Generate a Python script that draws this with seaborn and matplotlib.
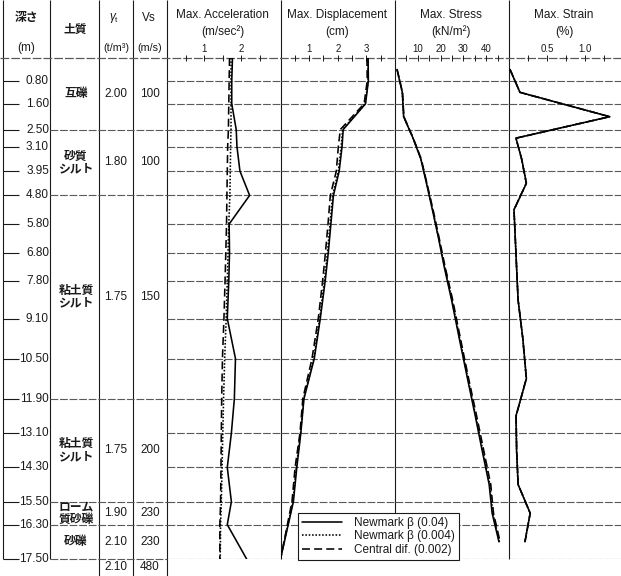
import matplotlib
matplotlib.use("Agg")
import matplotlib.pyplot as plt
from matplotlib.lines import Line2D
import pandas as pd
import seaborn as sns

sns.set_theme(style="white")
plt.rcParams["font.family"] = ["Liberation Sans", "Noto Sans CJK JP", "DejaVu Sans"]
plt.rcParams["mathtext.fontset"] = "custom"
plt.rcParams["mathtext.rm"] = "Liberation Sans"
plt.rcParams["mathtext.it"] = "Liberation Sans:italic"

# ---------------- data ----------------
node_depth = [0.0, 0.8, 1.6, 2.5, 3.1, 3.95, 4.8, 5.8, 6.8, 7.8, 9.1,
              10.5, 11.9, 13.1, 14.3, 15.5, 16.3, 17.5]
depth_labels = ["0.80", "1.60", "2.50", "3.10", "3.95", "4.80", "5.80", "6.80",
                "7.80", "9.10", "10.50", "11.90", "13.10", "14.30", "15.50",
                "16.30", "17.50"]
mid_depth = [0.4, 1.2, 2.05, 2.8, 3.525, 4.375, 5.3, 6.3, 7.3, 8.45, 9.8,
             11.2, 12.5, 13.7, 14.9, 15.9, 16.9]

methods = ["Newmark β (0.04)", "Newmark β (0.004)", "Central dif. (0.002)"]

acc_nm04 = [1.76, 1.74, 1.74, 1.86, 1.88, 1.96, 2.22, 1.67, 1.68, 1.66, 1.62,
            1.84, 1.81, 1.73, 1.62, 1.73, 1.62, 2.14]
acc_nm004 = [1.72, 1.72, 1.72, 1.72, 1.71, 1.70, 1.69, 1.66, 1.64, 1.62, 1.59,
             1.55, 1.52, 1.50, 1.48, 1.46, 1.44, 1.43]
acc_cd = [1.68, 1.67, 1.66, 1.65, 1.63, 1.62, 1.61, 1.60, 1.58, 1.56, 1.53,
          1.49, 1.47, 1.46, 1.45, 1.44, 1.42, 1.42]

disp_nm04 = [3.06, 3.07, 2.97, 2.19, 2.15, 2.05, 1.85, 1.76, 1.67, 1.56, 1.39,
             1.18, 0.82, 0.71, 0.57, 0.45, 0.27, 0.0]
disp_nm004 = [3.05, 3.06, 2.96, 2.17, 2.12, 2.02, 1.82, 1.73, 1.64, 1.53, 1.37,
              1.16, 0.81, 0.70, 0.55, 0.43, 0.26, 0.0]
disp_cd = [3.02, 3.03, 2.92, 2.09, 2.02, 1.95, 1.74, 1.66, 1.57, 1.47, 1.32,
           1.10, 0.78, 0.68, 0.51, 0.40, 0.24, 0.0]

stress_nm04 = [0.9, 3.2, 3.8, 7.9, 11.3, 13.8, 16.4, 19.1, 21.6, 24.8, 28.2,
               31.8, 35.2, 38.2, 41.3, 42.6, 45.6]
stress_nm004 = [0.9, 3.2, 3.8, 7.9, 11.4, 13.9, 16.5, 19.2, 21.8, 25.0, 28.4,
                32.0, 35.4, 38.5, 41.6, 42.9, 45.8]
stress_cd = [0.9, 3.3, 3.9, 8.0, 11.5, 14.0, 16.7, 19.4, 22.0, 25.3, 28.7,
             32.3, 35.8, 38.9, 42.0, 43.2, 46.1]

strain_nm04 = [0.013, 0.145, 1.33, 0.092, 0.167, 0.23, 0.066, 0.083, 0.10,
               0.12, 0.183, 0.23, 0.092, 0.10, 0.12, 0.28, 0.21]
strain_nm004 = [0.013, 0.145, 1.33, 0.092, 0.167, 0.23, 0.066, 0.083, 0.10,
                0.12, 0.183, 0.23, 0.094, 0.10, 0.12, 0.28, 0.21]
strain_cd = [0.013, 0.145, 1.33, 0.092, 0.166, 0.228, 0.066, 0.083, 0.10,
             0.12, 0.182, 0.228, 0.094, 0.102, 0.122, 0.28, 0.212]

# soil profile
layer_bounds = [0.0, 2.5, 4.8, 11.9, 15.5, 16.3, 17.5]
soil_names = ["互礫", "砂質\nシルト", "粘土質\nシルト", "粘土質\nシルト",
              "ローム\n質砂礫", "砂礫", ""]
unit_weight = ["2.00", "1.80", "1.75", "1.75", "1.90", "2.10", "2.10"]
shear_vs = ["100", "100", "150", "200", "230", "230", "480"]

# ---------------- layout (pixels) ----------------
W, H = 621, 576
TOP_PX, BOT_PX, D_MAX = 58, 559, 17.5
PX_PER_M = (BOT_PX - TOP_PX) / D_MAX
D_TOP = -TOP_PX / PX_PER_M
D_BOT = D_MAX + (H - BOT_PX) / PX_PER_M


def yd(px):
    return (px - TOP_PX) / PX_PER_M


INK = "#1a1a1a"
GRID = "#5a5a5a"
GRID_LS = (0, (7, 1.6))
FS = 8.5
JP = ["Noto Sans CJK JP", "DejaVu Sans"]

fig = plt.figure(figsize=(W / 100, H / 100), dpi=100)
fig.patch.set_facecolor("white")

bg = fig.add_axes([0, 0, 1, 1])
bg.set_xlim(0, W)
bg.set_ylim(D_BOT, D_TOP)
bg.axis("off")

# frame lines of the table and panel separators
bg.vlines([3, 50], D_TOP, D_MAX, color=INK, lw=0.8)
bg.vlines([99, 133, 167], D_TOP, D_BOT, color=INK, lw=0.8)
bg.vlines([280.5, 395, 509], D_TOP, D_MAX, color=INK, lw=0.8)
bg.hlines(0, 0, W, color=GRID, lw=0.9, linestyle=GRID_LS)
bg.hlines(layer_bounds[1:], 50, 167, color=GRID, lw=0.8, linestyle=GRID_LS)

# depth scale
bg.hlines(node_depth[1:], 3, 19, color=INK, lw=0.8)
for d, lab in zip(node_depth[1:], depth_labels):
    bg.text(49, d, lab, ha="right", va="center", fontsize=FS, color=INK)

# soil columns
centers = [(a + b) / 2 for a, b in zip(layer_bounds[:-1], layer_bounds[1:])]
centers.append(D_MAX + (D_BOT - D_MAX) * 0.5)
for c, name, g, v in zip(centers, soil_names, unit_weight, shear_vs):
    if name:
        bg.text(76, c, name, ha="center", va="center", fontsize=FS,
                family=JP, fontweight="bold", color=INK, linespacing=0.95,
                multialignment="center")
    bg.text(116, c, g, ha="center", va="center", fontsize=FS, color=INK)
    bg.text(150, c, v, ha="center", va="center", fontsize=FS, color=INK)

# header texts
bg.text(26, yd(18), "深さ", ha="center", va="center", fontsize=FS, family=JP,
        fontweight="bold", color=INK)
bg.text(26, yd(48), "(m)", ha="center", va="center", fontsize=FS, color=INK)
bg.text(75, yd(29), "土質", ha="center", va="center", fontsize=FS, family=JP,
        fontweight="bold", color=INK)
bg.text(114, yd(18), r"$\gamma_{\rm t}$", ha="center", va="center", fontsize=FS, color=INK)
bg.text(116, yd(48), "(t/m³)", ha="center", va="center", fontsize=7.8, color=INK)
bg.text(149, yd(18), "Vs", ha="center", va="center", fontsize=FS, color=INK)
bg.text(150, yd(48), "(m/s)", ha="center", va="center", fontsize=7.8, color=INK)

panels = [
    ("Max. Acceleration", "(m/sec²)", 167, 280.5, 3.05, [1, 2], ["1", "2"],
     [0.5, 1.5, 2.5], node_depth, acc_nm04, acc_nm004, acc_cd),
    ("Max. Displacement", "(cm)", 280.5, 395, 4.0, [1, 2, 3], ["1", "2", "3"],
     [0.5, 1.5, 2.5, 3.5], node_depth, disp_nm04, disp_nm004, disp_cd),
    ("Max. Stress", "(kN/m²)", 395, 509, 50.0, [10, 20, 30, 40],
     ["10", "20", "30", "40"], [5, 15, 25, 35, 45], mid_depth,
     stress_nm04, stress_nm004, stress_cd),
    ("Max. Strain", "(%)", 509, 621, 1.48, [0.5, 1.0], ["0.5", "1.0"],
     [0.25, 0.75, 1.25], mid_depth, strain_nm04, strain_nm004, strain_cd),
]

style_dashes = {methods[0]: "", methods[1]: (1, 1.1), methods[2]: (5, 2.6)}

for (title, unit, x0, x1, xmax, ticks, ticklabels, minor, depths,
     s1, s2, s3) in panels:
    ax = fig.add_axes([x0 / W, (H - BOT_PX) / H, (x1 - x0) / W,
                       (BOT_PX - TOP_PX) / H])
    ax.set_facecolor("none")
    frame = pd.DataFrame({
        "value": list(s3) + list(s2) + list(s1),
        "depth": list(depths) * 3,
        "method": [methods[2]] * len(depths) + [methods[1]] * len(depths)
                  + [methods[0]] * len(depths),
    })
    sns.lineplot(data=frame, x="value", y="depth", style="method",
                 dashes=style_dashes, units="method", estimator=None,
                 sort=False, color="black", lw=1.15, legend=False, ax=ax)
    ax.set_xlim(0, xmax)
    ax.set_ylim(D_MAX, 0)
    ax.set_xlabel("")
    ax.set_ylabel("")
    for sp in ax.spines.values():
        sp.set_visible(False)
    ax.set_yticks(node_depth[1:])
    ax.set_yticklabels([])
    ax.tick_params(axis="y", length=0)
    ax.yaxis.grid(True, color=GRID, lw=0.8, linestyle=GRID_LS)
    ax.xaxis.grid(False)
    ax.xaxis.set_ticks_position("top")
    ax.set_xticks(ticks)
    ax.set_xticklabels(ticklabels)
    ax.set_xticks(minor, minor=True)
    ax.tick_params(axis="x", which="both", top=True, bottom=False,
                   labeltop=True, labelbottom=False, direction="inout",
                   length=4, width=0.7, color=INK, pad=1, labelsize=7,
                   labelcolor=INK)
    cx = (x0 + x1) / 2 - 1
    bg.text(cx, yd(15), title, ha="center", va="center", fontsize=FS, color=INK)
    bg.text(cx, yd(32), unit, ha="center", va="center", fontsize=FS, color=INK)

handles = [Line2D([], [], color="black", lw=1.15, linestyle="-"),
           Line2D([], [], color="black", lw=1.15, linestyle=(0, (1, 1.1))),
           Line2D([], [], color="black", lw=1.15, linestyle=(0, (5, 2.6)))]
leg = fig.legend(handles, methods, loc="lower left",
                 bbox_to_anchor=(298 / W, (H - 560) / H),
                 bbox_transform=fig.transFigure, borderaxespad=0,
                 frameon=True, fancybox=False, framealpha=1, edgecolor=INK,
                 fontsize=FS, handlelength=3.4, handletextpad=1.0,
                 borderpad=0.35, labelspacing=0.12)
leg.get_frame().set_linewidth(0.8)
for t in leg.get_texts():
    t.set_color(INK)

fig.savefig("out.png", dpi=100, facecolor="white")
